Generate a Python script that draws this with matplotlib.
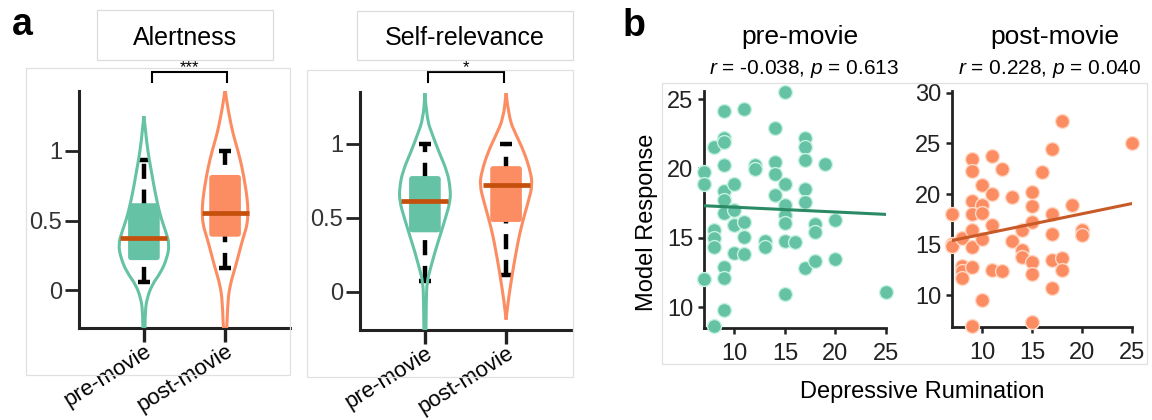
import numpy as np
import matplotlib
matplotlib.use('Agg')
import matplotlib.pyplot as plt
from matplotlib.patches import Rectangle, FancyBboxPatch, PathPatch
from matplotlib.path import Path

plt.rcParams['font.family'] = ['Liberation Sans', 'DejaVu Sans']
plt.rcParams['mathtext.fontset'] = 'custom'
plt.rcParams['mathtext.it'] = 'Liberation Sans:italic'
plt.rcParams['mathtext.rm'] = 'Liberation Sans'

# ---------------- data ----------------
conditions = ['pre-movie', 'post-movie']
violin_titles = ['Alertness', 'Self-relevance']
sig_labels = ['***', '*']

# violin outlines: rating levels and half-widths (x units)
alert_pre_y = [1.25, 1.15, 1.05, 0.95, 0.85, 0.75, 0.64, 0.52, 0.42, 0.33, 0.23, 0.13, 0.04, -0.06, -0.15, -0.32]
alert_pre_w = [0.0, 0.019, 0.037, 0.062, 0.093, 0.123, 0.16, 0.21, 0.27, 0.315, 0.284, 0.21, 0.099, 0.037, 0.016, 0.012]
alert_post_y = [1.44, 1.34, 1.24, 1.12, 1.0, 0.88, 0.76, 0.66, 0.565, 0.47, 0.40, 0.325, 0.24, 0.16, 0.04, -0.08, -0.32]
alert_post_w = [0.0, 0.025, 0.056, 0.099, 0.16, 0.21, 0.247, 0.272, 0.284, 0.272, 0.235, 0.198, 0.16, 0.123, 0.062, 0.033, 0.019]
self_pre_y = [1.34, 1.17, 1.056, 0.94, 0.81, 0.70, 0.61, 0.49, 0.38, 0.27, 0.157, 0.067, -0.07, -0.32]
self_pre_w = [0.0, 0.021, 0.094, 0.175, 0.275, 0.313, 0.313, 0.25, 0.188, 0.125, 0.069, 0.025, 0.016, 0.0125]
self_post_y = [1.34, 1.17, 1.056, 0.94, 0.81, 0.72, 0.61, 0.49, 0.38, 0.27, 0.157, 0.045, -0.07, -0.19]
self_post_w = [0.0, 0.034, 0.125, 0.225, 0.30, 0.325, 0.275, 0.213, 0.163, 0.125, 0.088, 0.056, 0.025, 0.0]

# box stats: whisker low, q1, median, q3, whisker high
alert_pre_stats = [0.062, 0.217, 0.373, 0.625, 0.935]
alert_post_stats = [0.158, 0.385, 0.553, 0.828, 1.0]
self_pre_stats = [0.07, 0.40, 0.613, 0.78, 1.0]
self_post_stats = [0.11, 0.47, 0.72, 0.847, 1.0]

# scatter: depressive rumination vs model response
pre_x = [7, 7, 7,
         8, 8, 8, 8, 8,
         9, 9, 9, 9, 9, 9, 9, 9, 9, 9,
         10, 10, 10, 10,
         11, 11, 11, 11,
         12, 12,
         13, 13,
         14, 14, 14, 14,
         15, 15, 15, 15, 15, 15, 15,
         16,
         17, 17, 17, 17, 17, 17,
         18, 18, 18,
         19,
         20, 20,
         25]
pre_y = [19.76, 18.87, 12.0,
         21.56, 15.55, 14.96, 14.35, 8.66,
         24.13, 22.17, 21.92, 20.24, 18.37, 17.72, 16.8, 12.91, 12.07, 9.79,
         18.87, 17.0, 15.92, 13.88,
         24.25, 16.15, 15.07, 13.82,
         20.24, 19.95,
         14.8, 14.36,
         22.89, 20.43, 19.57, 18.08,
         25.48, 18.85, 17.36, 16.64, 16.04, 14.76, 10.92,
         14.67,
         22.17, 21.56, 20.6, 18.51, 17.55, 12.79,
         15.96, 15.43, 13.34,
         20.31,
         16.28, 13.44,
         11.11]
post_x = [7, 7, 7,
          8, 8, 8, 8,
          9, 9, 9, 9, 9, 9, 9, 9,
          10, 10, 10, 10, 10,
          11, 11, 11, 11,
          12, 12,
          13, 13,
          14, 14, 14,
          15, 15, 15, 15, 15, 15,
          16,
          17, 17, 17, 17, 17,
          18, 18, 18,
          19,
          20, 20,
          25]
post_y = [18.0, 15.1, 14.9,
          15.7, 12.9, 12.4, 11.7,
          23.5, 22.3, 19.3, 18.0, 16.4, 14.8, 12.8, 7.0,
          20.85, 18.95, 18.1, 15.6, 9.5,
          23.8, 20.0, 16.95, 12.45,
          22.45, 12.4,
          19.7, 15.4,
          16.4, 14.45, 13.8,
          20.2, 18.85, 17.2, 13.3, 12.1, 7.4,
          22.2,
          24.4, 18.05, 16.05, 13.5, 10.75,
          27.2, 13.7, 12.5,
          18.95,
          16.45, 15.95,
          25.0]
stats_text = [r'$r$ = -0.038, $p$ = 0.613', r'$r$ = 0.228, $p$ = 0.040']
x_label = 'Depressive Rumination'
y_label = 'Model Response'

# ---------------- style ----------------
GREEN = '#66c2a5'
ORANGE = '#fc8d62'
MEDIAN = '#c4500c'
LINE_GREEN = '#2b8a66'
LINE_ORANGE = '#c85a28'
EDGE_GREEN = '#c6f3e0'
EDGE_ORANGE = '#ffd9c6'
SPINE = '#222222'
FRAME = '#e0e0e0'

W, H = 1152, 420
fig = plt.figure(figsize=(W / 100, H / 100), dpi=100)


def fx(px):
    return px / W


def fy(py):
    return 1 - py / H


def frame(x0, y0, x1, y1, color=FRAME):
    fig.add_artist(Rectangle((fx(x0), fy(y1)), fx(x1) - fx(x0), fy(y0) - fy(y1),
                             transform=fig.transFigure, fill=False, ec=color, lw=0.9))


def smooth_path(pts):
    verts = [pts[0]]
    codes = [Path.MOVETO]
    for i in range(1, len(pts) - 1):
        m = ((pts[i][0] + pts[i + 1][0]) / 2, (pts[i][1] + pts[i + 1][1]) / 2)
        verts += [pts[i], m]
        codes += [Path.CURVE3, Path.CURVE3]
    verts.append(pts[-1])
    codes.append(Path.LINETO)
    return Path(verts, codes)


def violin(ax, c, ys, ws, stats, color, aspect):
    right = [(c + w, y) for y, w in zip(ys, ws)]
    left = [(c - w, y) for y, w in zip(ys[::-1], ws[::-1])]
    path = smooth_path(right + left)
    wlo, q1, med, q3, whi = stats
    ax.plot([c, c], [wlo, whi], color='black', lw=3.2, dashes=(3.4, 2.4),
            solid_capstyle='butt', dash_capstyle='butt', zorder=2)
    for v in (wlo, whi):
        ax.plot([c - 0.075, c + 0.075], [v, v], color='black', lw=3.2,
                solid_capstyle='butt', zorder=2)
    clip = PathPatch(path, transform=ax.transData)
    box = FancyBboxPatch((c - 0.195, q1), 0.39, q3 - q1,
                         boxstyle='round,pad=0,rounding_size=0.04',
                         mutation_aspect=aspect, fc=color, ec='none', zorder=3)
    ax.add_patch(box)
    box.set_clip_path(clip)
    ax.add_patch(PathPatch(path, fc='none', ec=color, lw=2.2, zorder=4))
    ax.plot([c - 0.29, c + 0.29], [med, med], color=MEDIAN, lw=3.4,
            solid_capstyle='butt', zorder=5)


# ---------------- panel a ----------------
violin_sets = [
    [(alert_pre_y, alert_pre_w, alert_pre_stats), (alert_post_y, alert_post_w, alert_post_stats)],
    [(self_pre_y, self_pre_w, self_pre_stats), (self_post_y, self_post_w, self_post_stats)],
]
axes_a = [
    dict(box=(79, 91, 290, 328), ylim=(-0.27, 1.43), aspect=0.58,
         br=(1.1, 2.02, 1.495, 1.567), frame=(26, 68, 290, 375), tbox=(97, 10, 273, 60), tx=185),
    dict(box=(360, 91.7, 571, 330), ylim=(-0.26, 1.35), aspect=0.55,
         br=(1.04, 1.975, 1.413, 1.48), frame=(307, 70, 573, 377), tbox=(357, 11, 573, 60), tx=465),
]
for k, spec in enumerate(axes_a):
    x0, y0, x1, y1 = spec['box']
    frame(*spec['frame'])
    frame(*spec['tbox'], color='#dcdcdc')
    fig.text(fx(spec['tx']), fy(45), violin_titles[k], ha='center', va='baseline', fontsize=18)
    ax = fig.add_axes([fx(x0), fy(y1), fx(x1) - fx(x0), fy(y0) - fy(y1)])
    ax.set_facecolor('none')
    cols = [GREEN, ORANGE]
    for i, (ys, ws, st) in enumerate(violin_sets[k]):
        violin(ax, i + 1, ys, ws, st, cols[i], spec['aspect'])
    ax.set_xlim(0.2, 2.8)
    ax.set_ylim(*spec['ylim'])
    ax.set_yticks([0, 0.5, 1])
    ax.set_yticklabels(['0', '0.5', '1'])
    ax.set_xticks([1, 2])
    ax.set_xticklabels(conditions, rotation=32, ha='right', rotation_mode='anchor')
    for s in ['top', 'right']:
        ax.spines[s].set_visible(False)
    for s in ['left', 'bottom']:
        ax.spines[s].set_linewidth(2.2)
        ax.spines[s].set_color(SPINE)
    ax.tick_params(axis='y', length=10, width=2, color=SPINE, labelsize=17, pad=2,
                   labelcolor='#333333')
    ax.tick_params(axis='x', length=10, width=2.4, color=SPINE, labelsize=16, pad=-1)
    bx1, bx2, blo, bhi = spec['br']
    ax.plot([bx1, bx1, bx2, bx2], [blo, bhi, bhi, blo], color='black', lw=1.5,
            clip_on=False, solid_joinstyle='miter')
    ax.text((bx1 + bx2) / 2, bhi, sig_labels[k], ha='center', va='baseline',
            fontsize=12, clip_on=False)

# ---------------- panel b ----------------
frame(662, 83, 1147, 364)
scatter_sets = [
    dict(x=pre_x, y=pre_y, c=GREEN, e=EDGE_GREEN, lc=LINE_GREEN,
         box=(704, 90.7, 886, 328.3), ylim=(8.47, 25.6), yt=[10, 15, 20, 25], tx=800, sx=804),
    dict(x=post_x, y=post_y, c=ORANGE, e=EDGE_ORANGE, lc=LINE_ORANGE,
         box=(952, 90.7, 1132, 327.3), ylim=(6.84, 30.2), yt=[10, 15, 20, 25, 30], tx=1055, sx=1050),
]
for k, spec in enumerate(scatter_sets):
    x0, y0, x1, y1 = spec['box']
    ax = fig.add_axes([fx(x0), fy(y1), fx(x1) - fx(x0), fy(y0) - fy(y1)])
    ax.set_facecolor('none')
    xs = np.array(spec['x'], float)
    ys = np.array(spec['y'], float)
    ax.scatter(xs, ys, s=100, c=spec['c'], edgecolors=spec['e'], linewidths=1.0,
               zorder=3, clip_on=False)
    slope, icpt = np.polyfit(xs, ys, 1)
    xl = np.array([xs.min(), xs.max()])
    ax.plot(xl, icpt + slope * xl, color=spec['lc'], lw=2.2, zorder=4)
    ax.set_xlim(7, 25)
    ax.set_ylim(*spec['ylim'])
    ax.set_xticks([10, 15, 20, 25])
    ax.set_yticks(spec['yt'])
    for s in ['top', 'right']:
        ax.spines[s].set_visible(False)
    for s in ['left', 'bottom']:
        ax.spines[s].set_linewidth(2.0)
        ax.spines[s].set_color(SPINE)
    ax.tick_params(length=4.5, width=1.8, color=SPINE, labelsize=17, labelcolor='#222222')
    ax.tick_params(axis='x', pad=6)
    ax.tick_params(axis='y', pad=3)
    fig.text(fx(spec['tx']), fy(44), conditions[k], ha='center', va='baseline', fontsize=19)
    fig.text(fx(spec['sx']), fy(74), stats_text[k], ha='center', va='baseline', fontsize=15)

fig.text(fx(922), fy(398), x_label, ha='center', va='baseline', fontsize=17)
fig.text(fx(653), fy(222), y_label, ha='center', va='baseline', rotation=90,
         rotation_mode='anchor', fontsize=17)
fig.text(fx(12), fy(35), 'a', ha='left', va='baseline', fontsize=27, fontweight='bold')
fig.text(fx(623), fy(36), 'b', ha='left', va='baseline', fontsize=27, fontweight='bold')

fig.savefig('out.png', dpi=100)
